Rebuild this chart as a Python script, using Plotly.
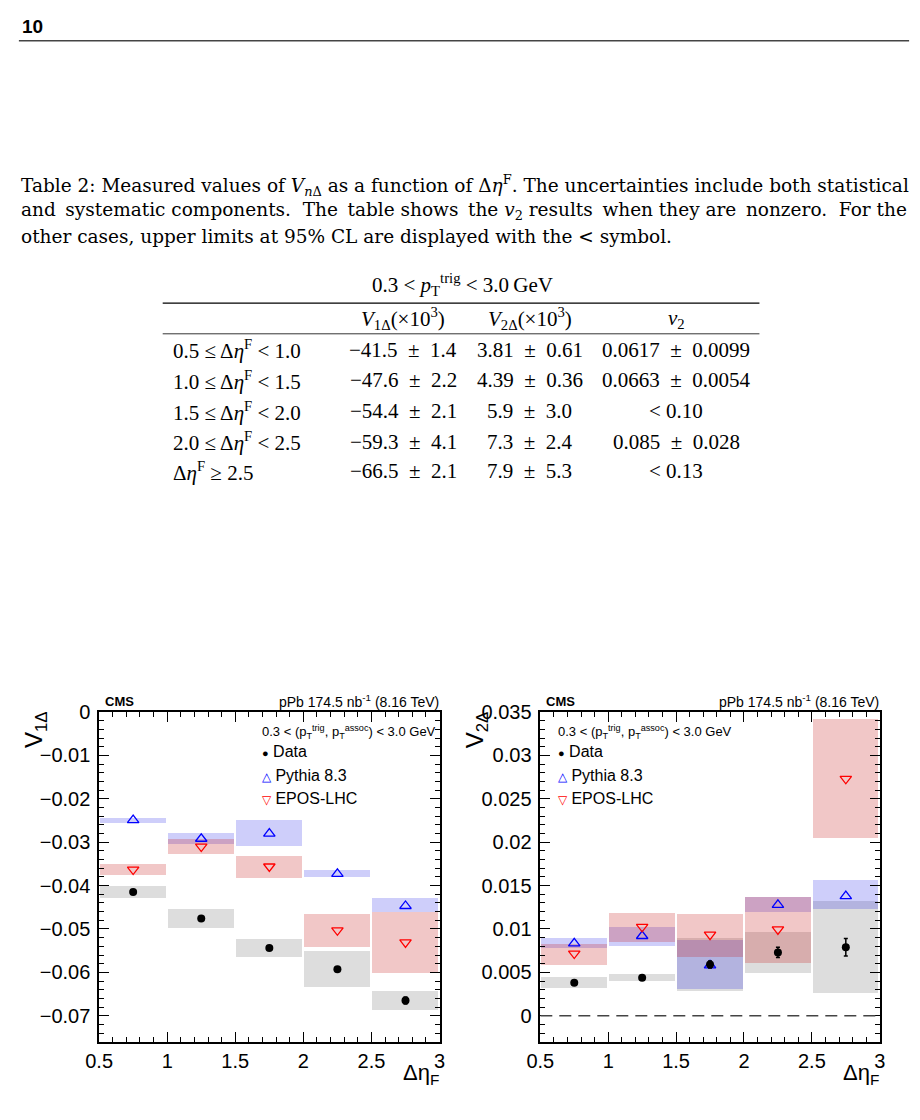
import plotly.graph_objects as go

W, H = 920, 1120


def px(x):
    return x / W


def py(y):
    return 1 - y / H


# ---------------- data ----------------
bin_centers = [0.75, 1.25, 1.75, 2.25, 2.75]
bin_labels = ["0.5 ≤ Δ<i>η</i><sup>F</sup> < 1.0",
              "1.0 ≤ Δ<i>η</i><sup>F</sup> < 1.5",
              "1.5 ≤ Δ<i>η</i><sup>F</sup> < 2.0",
              "2.0 ≤ Δ<i>η</i><sup>F</sup> < 2.5",
              "Δ<i>η</i><sup>F</sup> ≥ 2.5"]

# V1Delta
v1_data = [-0.0415, -0.0476, -0.0544, -0.0593, -0.0665]
v1_data_tot = [0.0014, 0.0022, 0.0021, 0.0041, 0.0021]
v1_data_stat = [0.0002, 0.0002, 0.0002, 0.0003, 0.0008]
v1_pythia = [-0.0249, -0.0292, -0.0280, -0.0373, -0.0447]
v1_pythia_lo = [-0.0255, -0.0304, -0.0310, -0.0381, -0.0461]
v1_pythia_hi = [-0.0244, -0.0280, -0.0250, -0.0364, -0.0429]
v1_epos = [-0.0363, -0.0310, -0.0356, -0.0503, -0.0531]
v1_epos_lo = [-0.0376, -0.0328, -0.0383, -0.0542, -0.0601]
v1_epos_hi = [-0.0350, -0.0293, -0.0332, -0.0465, -0.0461]

# V2Delta
v2_data = [0.00381, 0.00439, 0.0059, 0.0073, 0.0079]
v2_data_tot = [0.00061, 0.00036, 0.0030, 0.0024, 0.0053]
v2_data_stat = [0.0002, 0.0002, 0.0004, 0.0006, 0.0010]
v2_pythia = [0.00834, 0.00919, 0.0058, 0.01277, 0.01379]
v2_pythia_lo = [0.00785, 0.0080, 0.00305, 0.01197, 0.01227]
v2_pythia_hi = [0.0090, 0.01025, 0.00877, 0.01369, 0.01566]
v2_epos = [0.00717, 0.01025, 0.00934, 0.00995, 0.02731]
v2_epos_lo = [0.0058, 0.00854, 0.00671, 0.00606, 0.02046]
v2_epos_hi = [0.00831, 0.01185, 0.01174, 0.01369, 0.03425]

# table text
PM = "\u2002±\u2002"
table_v1 = ["−41.5" + PM + "1.4", "−47.6" + PM + "2.2", "−54.4" + PM + "2.1",
            "−59.3" + PM + "4.1", "−66.5" + PM + "2.1"]
table_v2 = ["3.81" + PM + "0.61", "4.39" + PM + "0.36", "5.9" + PM + "3.0",
            "7.3" + PM + "2.4", "7.9" + PM + "5.3"]
table_vn = ["0.0617" + PM + "0.0099", "0.0663" + PM + "0.0054", "< 0.10",
            "0.085" + PM + "0.028", "< 0.13"]

GREY = "rgba(120,120,120,0.25)"
BLUE = "rgba(30,30,230,0.22)"
RED = "rgba(200,30,30,0.25)"

fig = go.Figure()


def add_box(xa, ya, lo, hi, color):
    fig.add_trace(go.Bar(
        x=bin_centers, y=[h - l for l, h in zip(lo, hi)], base=lo, width=0.485,
        marker=dict(color=color, line=dict(width=0)),
        xaxis=xa, yaxis=ya, showlegend=False, hoverinfo="skip"))


def add_panel(xa, ya, data, tot, stat, pyt, pyt_lo, pyt_hi, ep, ep_lo, ep_hi):
    add_box(xa, ya, [d - t for d, t in zip(data, tot)], [d + t for d, t in zip(data, tot)], GREY)
    add_box(xa, ya, pyt_lo, pyt_hi, BLUE)
    add_box(xa, ya, ep_lo, ep_hi, RED)
    fig.add_trace(go.Scatter(
        x=bin_centers, y=pyt, mode="markers", xaxis=xa, yaxis=ya, showlegend=False,
        marker=dict(symbol="triangle-up-open", size=10, color="blue", line=dict(width=1.3, color="blue"))))
    fig.add_trace(go.Scatter(
        x=bin_centers, y=ep, mode="markers", xaxis=xa, yaxis=ya, showlegend=False,
        marker=dict(symbol="triangle-down-open", size=10, color="red", line=dict(width=1.3, color="red"))))
    fig.add_trace(go.Scatter(
        x=bin_centers, y=data, mode="markers", xaxis=xa, yaxis=ya, showlegend=False,
        error_y=dict(type="data", array=stat, color="black", thickness=1.5, width=2),
        marker=dict(symbol="circle", size=8, color="black")))


add_panel("x", "y", v1_data, v1_data_tot, v1_data_stat, v1_pythia, v1_pythia_lo, v1_pythia_hi,
          v1_epos, v1_epos_lo, v1_epos_hi)
add_panel("x2", "y2", v2_data, v2_data_tot, v2_data_stat, v2_pythia, v2_pythia_lo, v2_pythia_hi,
          v2_epos, v2_epos_lo, v2_epos_hi)

SANS = "Liberation Sans"
SERIF = "Liberation Serif"
CAPSERIF = "DejaVu Serif"

axis_common = dict(showline=True, linecolor="black", linewidth=1.5, mirror="allticks",
                   ticks="inside", ticklen=10, tickwidth=1.2, tickcolor="black",
                   showgrid=False, zeroline=False,
                   tickfont=dict(family=SANS, size=20, color="black"))
minor_common = dict(ticks="inside", ticklen=5, tickwidth=1.2, tickcolor="black", showgrid=False)

ydom = [py(1041), py(708)]
fig.update_layout(
    width=W, height=H, margin=dict(l=0, r=0, t=0, b=0),
    paper_bgcolor="white", plot_bgcolor="white", barmode="overlay", bargap=0,
    showlegend=False,
    xaxis=dict(domain=[px(87), px(435)], range=[0.5, 3], tick0=0.5, dtick=0.5, anchor="y",
               minor=dict(dtick=0.1, **minor_common), **axis_common),
    yaxis=dict(domain=ydom, range=[-0.076, 0], tick0=0, dtick=0.01, anchor="x",
               ticklabelstandoff=3, minor=dict(dtick=0.002, **minor_common), **axis_common),
    xaxis2=dict(domain=[px(538), px(885)], range=[0.5, 3], tick0=0.5, dtick=0.5, anchor="y2",
                minor=dict(dtick=0.1, **minor_common), **axis_common),
    yaxis2=dict(domain=ydom, range=[-0.003, 0.035], tick0=0, dtick=0.005, anchor="x2",
                ticklabelstandoff=3, minor=dict(dtick=0.001, **minor_common), **axis_common),
)

shapes = [
    dict(type="line", xref="paper", yref="paper", x0=px(5), x1=px(915), y0=py(30), y1=py(30),
         line=dict(color="#444", width=1.5)),
    dict(type="line", xref="paper", yref="paper", x0=px(152), x1=px(762), y0=py(295), y1=py(295),
         line=dict(color="black", width=1.3)),
    dict(type="line", xref="paper", yref="paper", x0=px(152), x1=px(762), y0=py(326), y1=py(326),
         line=dict(color="black", width=0.8)),
    dict(type="line", xref="x2", yref="y2", x0=0.5, x1=3, y0=0, y1=0,
         line=dict(color="#444", width=1.5, dash="12px,7px")),
]
fig.update_layout(shapes=shapes)

ann = []


def text(x, y, s, size, family=SANS, xanchor="left", yanchor="middle", angle=0, color="black"):
    ann.append(dict(x=px(x), y=py(y), xref="paper", yref="paper", text=s, showarrow=False,
                    xanchor=xanchor, yanchor=yanchor, textangle=angle, borderpad=0,
                    font=dict(family=family, size=size, color=color)))


# page header
text(7, 16, "<b>10</b>", 19)

# caption
TSP = " \u2009"
cap1 = ("Table 2: Measured values of <i>V</i><sub><i>n</i>Δ</sub> as a function of Δ<i>η</i><sup>F</sup>."
        " The uncertainties include both statistical")
cap2 = ("and" + TSP + "systematic components.\u00a0 The" + TSP + "table shows" + TSP + "the "
        "<i>v</i><sub>2</sub> results" + TSP + "when they are" + TSP + "nonzero.\u00a0 For the")
cap3 = "other cases, upper limits at 95% CL are displayed with the < symbol."
text(6, 176, cap1, 18.5, CAPSERIF)
text(6, 202, cap2, 18.5, CAPSERIF)
text(6, 228, cap3, 18.5, CAPSERIF)

# table
TS = 21
text(458, 276, "0.3 < <i>p</i><sub>T</sub><sup>trig</sup> < 3.0\u2009GeV", TS, SERIF, xanchor="center")
text(398, 311, "<i>V</i><sub>1Δ</sub>(×10<sup>3</sup>)", TS, SERIF, xanchor="center")
text(527, 311, "<i>V</i><sub>2Δ</sub>(×10<sup>3</sup>)", TS, SERIF, xanchor="center")
text(677, 311, "<i>v</i><sub>2</sub>", TS, SERIF, xanchor="center")
row_y = [342, 373, 404, 435, 465]
for yy, lab, a, b, c in zip(row_y, bin_labels, table_v1, table_v2, table_vn):
    text(162, yy, lab, TS, SERIF)
    text(398, yy, a, TS, SERIF, xanchor="center")
    text(527, yy, b, TS, SERIF, xanchor="center")
    text(677, yy, c, TS, SERIF, xanchor="center")

# panel decorations
for (x0, x1, ytitle, lx) in [(87, 435, "V<sub>1Δ</sub>", 252), (538, 885, "V<sub>2Δ</sub>", 555)]:
    text(x0 + 5, 697, "<b>CMS</b>", 13)
    text(x1, 697, "pPb 174.5 nb<sup>-1</sup> (8.16 TeV)", 14, xanchor="right")
    text(x0 - 65, 706, ytitle, 24, xanchor="center", yanchor="top", angle=-90)
    text(x1, 1074, "Δη<sub>F</sub>", 22, xanchor="right")
    text(lx, 728, "0.3 < (p<sub>T</sub><sup>trig</sup>, p<sub>T</sub><sup>assoc</sup>) < 3.0 GeV", 13)
    text(lx, 748, "<span style='font-size:11px'>●</span> Data", 16)
    text(lx, 772, "<span style='color:blue;font-size:12px'>△</span> Pythia 8.3", 16)
    text(lx, 795, "<span style='color:red;font-size:12px'>▽</span> EPOS-LHC", 16)

fig.update_layout(annotations=ann)
fig.write_html("out.html", post_script="document.body.style.margin='0px';")
